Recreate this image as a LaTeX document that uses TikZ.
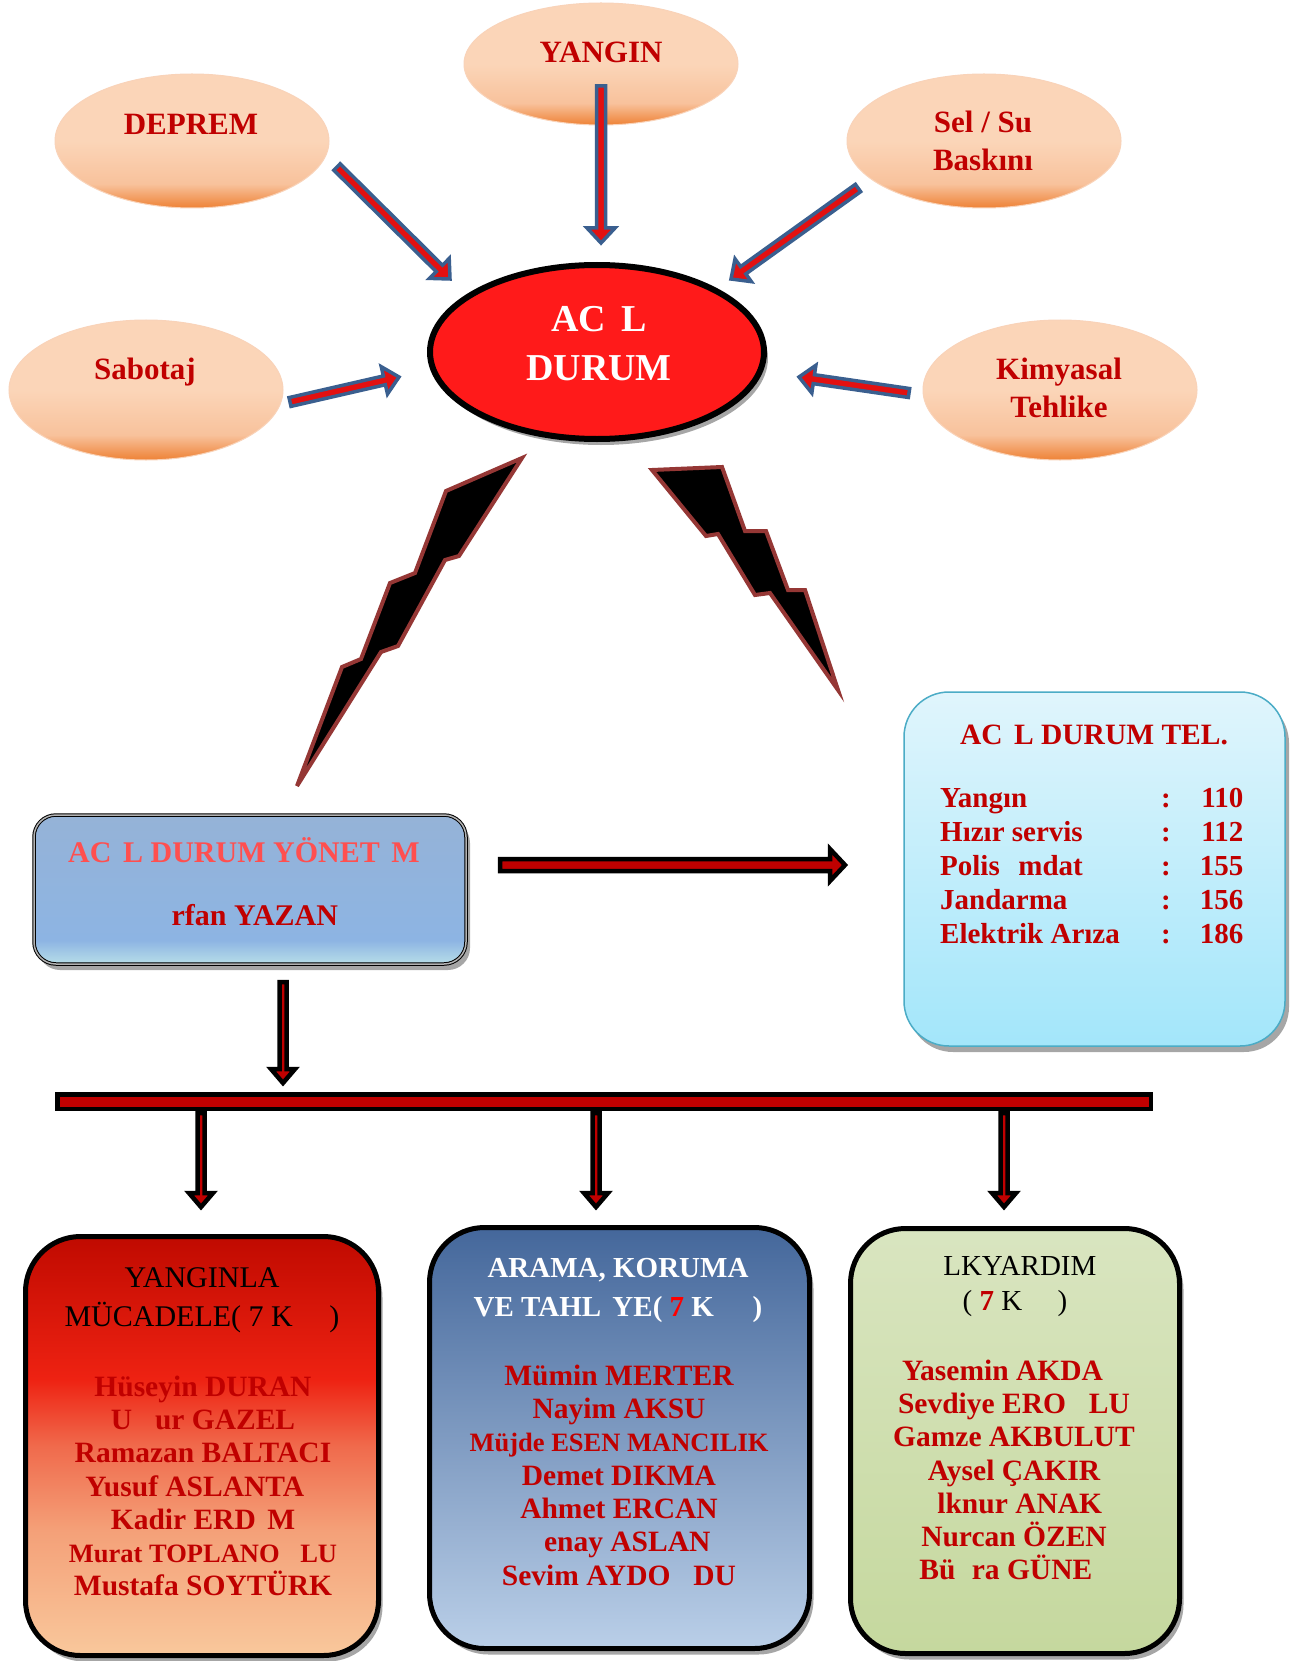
\documentclass[tikz,border=0pt]{standalone}
\usepackage{fontspec}
\setmainfont{Liberation Serif}
\usetikzlibrary{shapes.geometric,calc,shadows}
\definecolor{darkred}{HTML}{C00000}
\definecolor{lightred}{HTML}{FF4F4F}
\definecolor{acilred}{HTML}{FF1A1A}
\definecolor{arrblue}{HTML}{3A5F8F}
\definecolor{arrred}{HTML}{E31010}
\definecolor{boltbrown}{HTML}{953735}
\definecolor{pchT}{HTML}{FBD5B8}
\definecolor{pchM}{HTML}{F8C29C}
\definecolor{pchB}{HTML}{EE8236}
\definecolor{mgT}{HTML}{95B3D7}
\definecolor{mgM}{HTML}{8DB4E3}
\definecolor{mgB}{HTML}{B7DEE8}
\definecolor{telT}{HTML}{E0F5FC}
\definecolor{telB}{HTML}{A3E6FA}
\definecolor{telline}{HTML}{4BACC6}
\definecolor{fiT}{HTML}{C00A00}
\definecolor{fiM}{HTML}{EE2212}
\definecolor{fiN}{HTML}{F06A4C}
\definecolor{fiL}{HTML}{F4A078}
\definecolor{fiB}{HTML}{F9C89C}
\definecolor{arT}{HTML}{44679B}
\definecolor{arB}{HTML}{BACFE8}
\definecolor{ilT}{HTML}{D9E5C0}
\definecolor{ilB}{HTML}{C5D89E}
\pgfdeclareverticalshading{peachy}{100bp}{color(0bp)=(pchB); color(25bp)=(pchB); color(34bp)=(pchM); color(50bp)=(pchT); color(100bp)=(pchT)}
\pgfdeclareverticalshading{mgmtsh}{100bp}{color(0bp)=(mgB); color(25bp)=(mgB); color(33bp)=(mgM); color(75bp)=(mgT); color(100bp)=(mgT)}
\pgfdeclareverticalshading{firesh}{100bp}{color(0bp)=(fiB); color(25bp)=(fiB); color(40bp)=(fiL); color(50bp)=(fiN); color(58bp)=(fiM); color(75bp)=(fiT); color(100bp)=(fiT)}
% missing glyphs of the original print
\newcommand{\miss}[1]{\phantom{#1}}
% block arrow: style, from, to, half shaft, half head, head length
\newcommand{\fatarrow}[6]{%
  \coordinate (fa-h) at ($(#3)!#6!(#2)$);
  \filldraw[#1] ($(#2)!#4!90:(#3)$) -- ($(fa-h)!#4!90:(#3)$) -- ($(fa-h)!#5!90:(#3)$) -- (#3)
    -- ($(fa-h)!#5!-90:(#3)$) -- ($(fa-h)!#4!-90:(#3)$) -- ($(#2)!#4!-90:(#3)$) -- cycle;}

\begin{document}
\begin{tikzpicture}[x=1pt, y=-1pt,
    sat/.style={ellipse, draw=pchB!35, line width=1pt, shading=peachy, inner sep=0pt, minimum width=274},
    sattxt/.style={text=darkred, font=\fontsize{31}{38}\selectfont\bfseries, align=center, inner sep=0pt},
    sky/.style={draw=arrblue, line width=3.5pt, fill=arrred},
    blk/.style={draw=black, line width=4.5pt, fill=darkred},
    bolt/.style={fill=black, draw=boltbrown, line width=4pt},
    shade/.style={drop shadow={shadow xshift=4pt, shadow yshift=-6pt, fill=black, opacity=0.35}},
    team/.style={rectangle, rounded corners=55, draw=black, line width=5pt, shade, inner sep=0pt},
    names/.style={text=darkred, font=\fontsize{29.5}{33.3}\selectfont\bfseries, align=center, inner sep=0pt},
    ttl/.style={font=\fontsize{30}{39}\selectfont, align=center, inner sep=0pt}]
\useasboundingbox[fill=white] (0,0) rectangle (1301,1661);

% hazards round the centre
\node[sat, minimum height=134] (dep) at (192,141) {};
\node[sat, minimum height=122] (yan) at (601,64) {};
\node[sat, minimum height=134] (sel) at (984,141) {};
\node[sat, minimum height=140] (sab) at (146,390) {};
\node[sat, minimum height=140] (kim) at (1060,390) {};
\node[sattxt] (deptx) at (191,124) {DEPREM};
\node[sattxt] (yantx) at (601,52) {YANGIN};
\node[sattxt] (seltx) at (983,141) {Sel / Su\\Baskını};
\node[sattxt] (sabtx) at (145,372) {Sabotaj};
\node[sattxt] (kimtx) at (1059,388) {Kimyasal\\Tehlike};

\node[ellipse, draw=black, line width=6pt, fill=acilred, minimum width=334, minimum height=174, shade] (acil) at (597,352) {};
\node[text=white, font=\fontsize{38}{49}\selectfont\bfseries, align=center, inner sep=0pt] (aciltx) at (599,344) {AC\miss{I}L\\DURUM};

\coordinate (dep-s) at (337,167);
\coordinate (dep-e) at (450,279);
\coordinate (yan-s) at (601,86);
\coordinate (yan-e) at (601,243);
\coordinate (sel-s) at (858,188);
\coordinate (sel-e) at (731,279);
\coordinate (sab-s) at (290,402);
\coordinate (sab-e) at (399,377);
\coordinate (kim-s) at (909,393);
\coordinate (kim-e) at (799,377);
\fatarrow{sky}{dep-s}{dep-e}{4.5pt}{14pt}{15pt}
\fatarrow{sky}{yan-s}{yan-e}{4.5pt}{14pt}{15pt}
\fatarrow{sky}{sel-s}{sel-e}{4.5pt}{14pt}{15pt}
\fatarrow{sky}{sab-s}{sab-e}{4.5pt}{14pt}{15pt}
\fatarrow{sky}{kim-s}{kim-e}{4.5pt}{14pt}{15pt}

% lightning
\filldraw[bolt] (522,458) -- (446,491) -- (415,573) -- (390,583) -- (361,659) -- (342,667) -- (297,786)
  -- (381,652) -- (398,646) -- (445,560) -- (459,556) -- cycle;
\filldraw[bolt] (652,470) -- (722,467) -- (745,531) -- (766,531) -- (788,590) -- (805,590) -- (838,690)
  -- (770,593) -- (755,595) -- (718,534) -- (706,536) -- cycle;

% management and phone list
\node[rectangle, rounded corners=22, draw=black, double=gray!60, double distance=1.5pt, line width=1pt,
  shading=mgmtsh, shade, minimum width=432, minimum height=149] (yon) at (250,889.5) {};
\node[text=lightred, font=\fontsize{30}{33}\selectfont\bfseries, inner sep=0pt] (yontx) at (244,850) {AC\miss{I}L DURUM YÖNET\miss{I}M};
\node[text=darkred, font=\fontsize{30}{33}\selectfont\bfseries, inner sep=0pt] (yanan) at (249,915) {\miss{I}rfan YAZAN};

\node[rectangle, rounded corners=45, draw=telline, line width=1.5pt, top color=telT, bottom color=telB, shade,
  minimum width=381, minimum height=354] (tel) at (1094.5,869) {};
\node[text=darkred, font=\fontsize{29.5}{34}\selectfont\bfseries, inner sep=0pt] (teltx) at (1094,735) {AC\miss{I}L DURUM TEL.};
\node[text=darkred, font=\fontsize{29}{34}\selectfont\bfseries, inner sep=0pt, anchor=west] (telno) at (940,869) {%
  \begin{tabular}{@{}p{221pt}@{}c@{\hspace{29pt}}r@{}}
  Yangın & : & 110\\
  Hızır servis & : & 112\\
  Polis \miss{I}mdat & : & 155\\
  Jandarma & : & 156\\
  Elektrik Arıza & : & 186
  \end{tabular}};

\coordinate (yon-s) at (500,865);
\coordinate (yon-e) at (845,865);
\fatarrow{blk}{yon-s}{yon-e}{6pt}{16pt}{15pt}

% distribution bar
\node[rectangle, blk, minimum width=1093.5, minimum height=14.5, inner sep=0pt] (bus) at (604,1101.5) {};
\coordinate (bus-in) at (283,982);
\coordinate (bus-top) at (283,1083);
\fatarrow{blk}{bus-in}{bus-top}{3.5pt}{12pt}{14pt}
\coordinate (b1) at (201,1113);
\coordinate (b1-e) at (201,1207);
\coordinate (b2) at (596,1113);
\coordinate (b2-e) at (596,1207);
\coordinate (b3) at (1004,1113);
\coordinate (b3-e) at (1004,1207);
\fatarrow{blk}{b1}{b1-e}{3.5pt}{12pt}{14pt}
\fatarrow{blk}{b2}{b2-e}{3.5pt}{12pt}{14pt}
\fatarrow{blk}{b3}{b3-e}{3.5pt}{12pt}{14pt}

% teams
\node[team, shading=firesh, minimum width=353, minimum height=419] (fire) at (202,1446) {};
\node[team, top color=arT, bottom color=arB, minimum width=380, minimum height=421] (search) at (619.5,1438) {};
\node[team, top color=ilT, bottom color=ilB, minimum width=329, minimum height=425] (aid) at (1015,1441) {};

\node[ttl] (firettl) at (202,1300) {YANGINLA\\MÜCADELE( 7 K\miss{ISI})};
\node[names] (firenm) at (203,1486) {Hüseyin DURAN\\U\miss{G}ur GAZEL\\Ramazan BALTACI\\Yusuf ASLANTA\miss{S}\\Kadir ERD\miss{I}M\\{\fontsize{26.5}{33.3}\selectfont Murat TOPLANO\miss{G}LU}\\Mustafa SOYTÜRK};

\node[ttl, text=white, font=\fontsize{29}{39}\selectfont\bfseries] (srcttl) at (618,1290) {ARAMA, KORUMA\\VE TAHL\miss{I}YE( \textcolor{red}{7} K\miss{ISI})};
\node[names] (srcnm) at (619,1475) {Mümin MERTER\\Nayim AKSU\\{\fontsize{26.5}{33.3}\selectfont Müjde ESEN MANCILIK}\\Demet DIKMA\\Ahmet ERCAN\\\miss{S}enay ASLAN\\Sevim AYDO\miss{G}DU};

\node[ttl, font=\fontsize{29}{35}\selectfont] (aidttl) at (1015,1286) {\miss{I}LKYARDIM\\( \textcolor{darkred}{\textbf{7}} K\miss{ISI})};
\node[names] (aidnm) at (1014,1470) {Yasemin AKDA\miss{G}\\Sevdiye ERO\miss{G}LU\\Gamze AKBULUT\\Aysel ÇAKIR\\\miss{I}lknur ANAK\\Nurcan ÖZEN\\Bü\miss{S}ra GÜNE\miss{S}};
\end{tikzpicture}
\end{document}
